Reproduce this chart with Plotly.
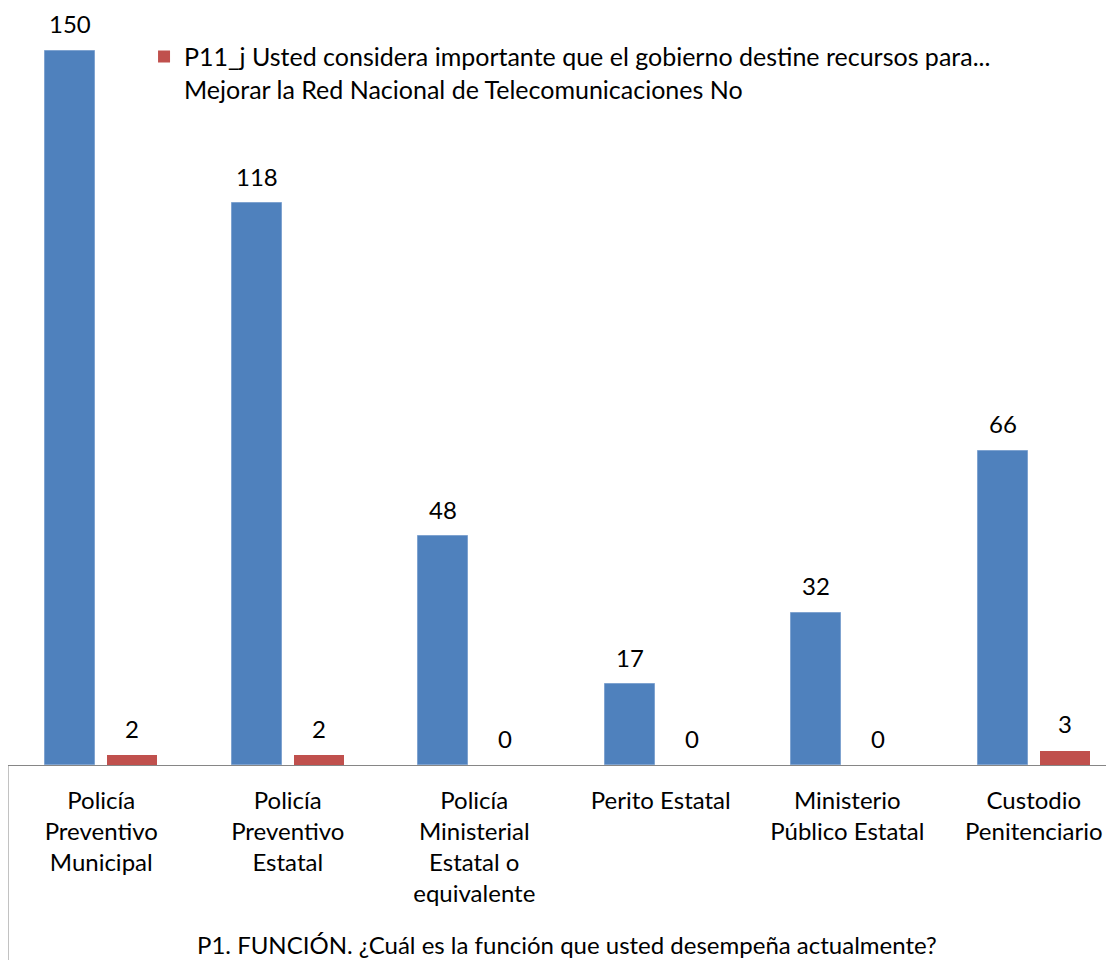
import plotly.graph_objects as go

categories = ["Policía<br>Preventivo<br>Municipal", "Policía<br>Preventivo<br>Estatal",
              "Policía<br>Ministerial<br>Estatal o<br>equivalente", "Perito Estatal",
              "Ministerio<br>Público Estatal", "Custodio<br>Penitenciario"]
si_values = [150, 118, 48, 17, 32, 66]
no_values = [2, 2, 0, 0, 0, 3]
no_name = "P11_j Usted considera importante que el gobierno destine recursos para...<br>Mejorar la Red Nacional de Telecomunicaciones No"
axis_title = "P1. FUNCIÓN. ¿Cuál es la función que usted desempeña actualmente?"

FONT = "Lato"
FS = 24
idx = list(range(len(categories)))

fig = go.Figure()
fig.add_trace(go.Bar(x=idx, y=si_values, name="Sí", showlegend=False,
                     marker=dict(color="#4F81BD", line=dict(color="#7FA3D0", width=1)),
                     width=0.268, offset=-0.30))
fig.add_trace(go.Bar(x=idx, y=no_values, name=no_name,
                     marker=dict(color="#C0504D", line=dict(width=0)),
                     width=0.268, offset=0.032))

for i, v in zip(idx, si_values):
    fig.add_annotation(x=i, y=v, text=str(v), showarrow=False, xshift=-31, yshift=27,
                       font=dict(family=FONT, size=FS, color="black"))
for i, v in zip(idx, no_values):
    fig.add_annotation(x=i, y=v, text=str(v), showarrow=False, xshift=31, yshift=27,
                       font=dict(family=FONT, size=FS, color="black"))

fig.add_annotation(x=0.505, xref="paper", y=-0.237, yref="paper", yanchor="middle",
                   text=axis_title, showarrow=False,
                   font=dict(family=FONT, size=FS, color="black"))

fig.add_shape(type="line", xref="paper", yref="paper", x0=0, x1=0, y0=0, y1=-0.3,
              line=dict(color="#868686", width=1))

fig.update_layout(
    width=1106, height=952,
    margin=dict(l=0, r=0, t=0, b=195),
    plot_bgcolor="white", paper_bgcolor="white",
    bargap=0, barmode="group",
    font=dict(family=FONT, size=FS, color="black"),
    xaxis=dict(range=[-0.5, 5.43], tickmode="array", tickvals=idx, ticktext=categories,
               showline=True, linecolor="#868686", linewidth=1, showgrid=False,
               ticks="", ticklabelstandoff=14, tickfont=dict(family=FONT, size=FS, color="black"),
               zeroline=False),
    yaxis=dict(range=[0, 159.0], visible=False),
    legend=dict(x=0.123, y=0.966, xanchor="left", yanchor="top", itemwidth=30,
                valign="top",
                font=dict(family=FONT, size=25, color="black"),
                bgcolor="rgba(0,0,0,0)"),
)

fig.write_html("out.html")
